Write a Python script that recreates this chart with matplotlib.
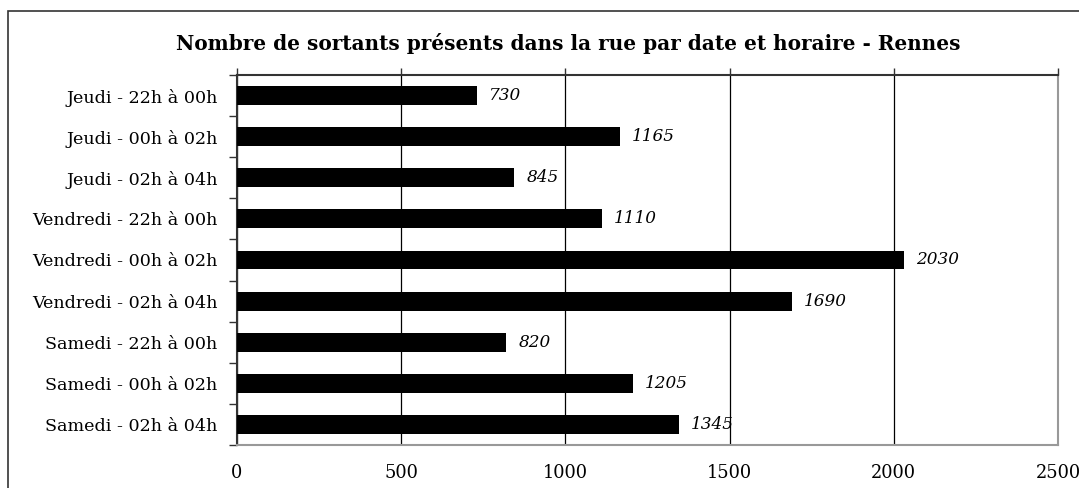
import matplotlib.pyplot as plt
from matplotlib.patches import Rectangle
from matplotlib.ticker import FixedLocator

categories = [
    "Jeudi - 22h à 00h", "Jeudi - 00h à 02h", "Jeudi - 02h à 04h",
    "Vendredi - 22h à 00h", "Vendredi - 00h à 02h", "Vendredi - 02h à 04h",
    "Samedi - 22h à 00h", "Samedi - 00h à 02h", "Samedi - 02h à 04h",
]
values = [730, 1165, 845, 1110, 2030, 1690, 820, 1205, 1345]
x_ticks = [0, 500, 1000, 1500, 2000, 2500]

plt.rcParams['font.family'] = ['DejaVu Serif']

fig = plt.figure(figsize=(10.79, 4.88), dpi=100)
ax = fig.add_axes([237 / 1079, 1 - 445 / 488, (1058 - 237) / 1079, (445 - 75) / 488])

# outer chart frame (right and bottom edges fall outside the image)
fig.patches.append(Rectangle((8 / 1079, -0.1), 1.2, 1 - 11 / 488 + 0.1,
                             transform=fig.transFigure, fill=False,
                             edgecolor='#333333', linewidth=1.2))

pos = list(range(len(categories)))
ax.barh(pos, values, height=0.46, color='black', zorder=3)
for p, v in zip(pos, values):
    ax.text(v + 37, p, str(v), va='center', ha='left', style='italic',
            fontsize=12.2, zorder=4)

ax.set_xlim(0, 2500)
ax.set_ylim(len(categories) - 0.5, -0.5)
ax.set_xticks(x_ticks)
ax.set_xticklabels([str(t) for t in x_ticks], fontsize=12.8)
ax.tick_params(axis='x', top=True, bottom=False, labeltop=False, labelbottom=True,
               direction='out', length=5, width=1, pad=9, color='#333333')
ax.set_yticks(pos)
ax.set_yticklabels(categories, fontsize=12.6)
ax.yaxis.set_minor_locator(FixedLocator([p - 0.5 for p in pos] + [pos[-1] + 0.5]))
ax.tick_params(axis='y', which='major', length=0, pad=14)
ax.tick_params(axis='y', which='minor', length=6, width=1, color='#333333')

ax.grid(axis='x', color='black', linewidth=0.9, zorder=1)
for side in ('top', 'left'):
    ax.spines[side].set_color('#333333')
    ax.spines[side].set_linewidth(1.5)
for side in ('bottom', 'right'):
    ax.spines[side].set_color('#999999')
    ax.spines[side].set_linewidth(1.5)

fig.text(568 / 1079, 1 - 44 / 488, "Nombre de sortants présents dans la rue par date et horaire - Rennes",
         ha='center', va='center', fontsize=14.4, fontweight='bold')

fig.savefig("out.png", dpi=100)
